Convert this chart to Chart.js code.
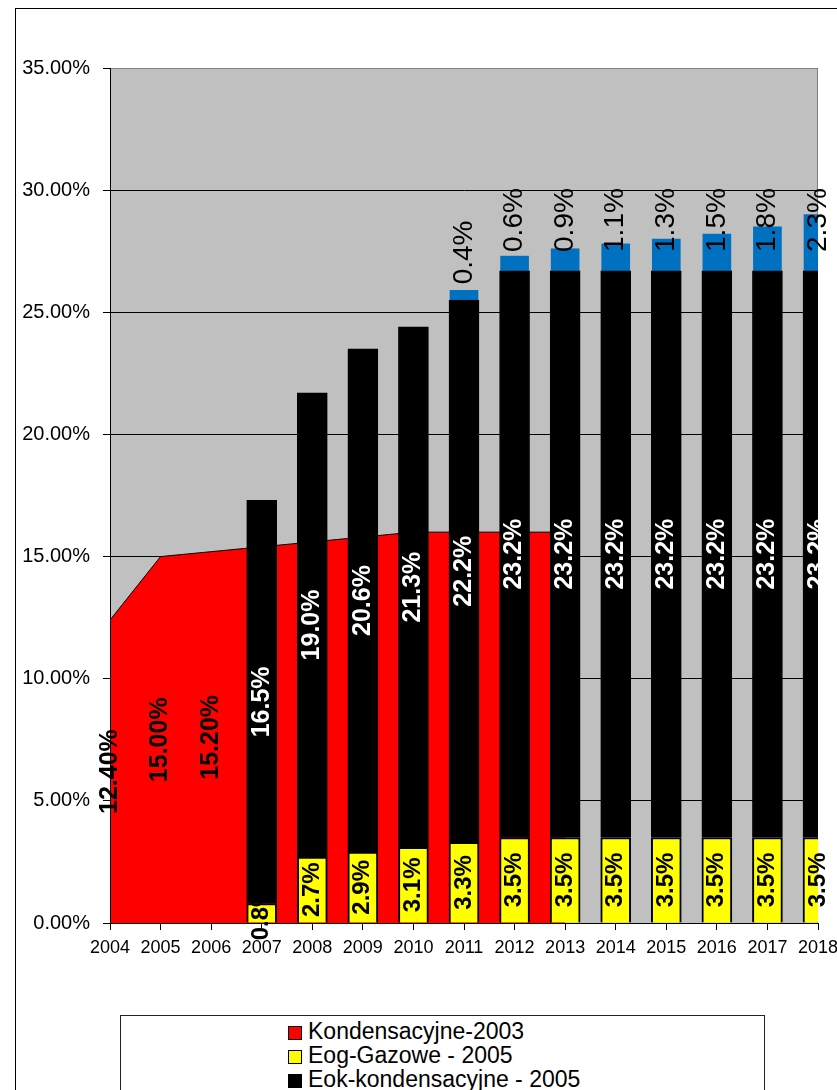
<!DOCTYPE html>
<html>
<head>
<meta charset="utf-8">
<script src="https://cdn.jsdelivr.net/npm/chart.js@4.4.1/dist/chart.umd.min.js"></script>
<style>
html, body { margin: 0; padding: 0; background: #fff; overflow: hidden; }
body { width: 837px; height: 1090px; position: relative; font-family: 'Liberation Sans', Arial, sans-serif; }
#frame { position: absolute; left: 15px; top: 8px; width: 900px; height: 1200px; border: 1px solid #000; }
#chart { position: absolute; left: 0; top: 0; }
#legend { position: absolute; left: 120px; top: 1015px; width: 643px; height: 200px; border: 1px solid #222; background: #fff; }
#legend .items { padding: 3px 0 0 167px; }
#legend .item { font-size: 23px; line-height: 24px; height: 24px; white-space: nowrap; color: #000; }
#legend .box { display: inline-block; width: 12px; height: 12px; border: 1px solid #000; margin-right: 6px; vertical-align: -1px; }
</style>
</head>
<body>
<div id="frame"></div>
<canvas id="chart" width="837" height="1090"></canvas>
<div id="legend"><div class="items"></div></div>
<script>
const years = ['2004', '2005', '2006', '2007', '2008', '2009', '2010', '2011', '2012', '2013', '2014', '2015', '2016', '2017', '2018'];
const kondensacyjne2003 = [12.4, 15.0, 15.2, 15.4, 15.6, 15.8, 16.0, 16.0, 16.0, 16.0, null, null, null, null, null];
const eogGazowe2005 = [null, null, null, 0.8, 2.7, 2.9, 3.1, 3.3, 3.5, 3.5, 3.5, 3.5, 3.5, 3.5, 3.5];
const eokKondensacyjne2005 = [null, null, null, 16.5, 19.0, 20.6, 21.3, 22.2, 23.2, 23.2, 23.2, 23.2, 23.2, 23.2, 23.2];
const topSeries = [null, null, null, null, null, null, null, 0.4, 0.6, 0.9, 1.1, 1.3, 1.5, 1.8, 2.3];
const seriesNames = ['Kondensacyjne-2003', 'Eog-Gazowe - 2005', 'Eok-kondensacyjne - 2005', ''];
const yTickStep = 5, yMax = 35;

Chart.defaults.font.family = "'Liberation Sans', Arial, sans-serif";
Chart.defaults.color = '#000';

// label look per dataset index
const labelStyles = [
    { font: "bold 25px 'Liberation Sans', Arial", color: '#000', digits: 2 },
    { font: "bold 24px 'Liberation Sans', Arial", color: '#000', digits: 1 },
    { font: "bold 25px 'Liberation Sans', Arial", color: '#fff', digits: 1 },
    { font: "28px 'Liberation Sans', Arial", color: '#000', digits: 1, above: true }
];

const segmentLabels = {
    id: 'segmentLabels',
    afterDatasetDraw(chart, args) {
        const st = labelStyles[args.index];
        const ds = chart.data.datasets[args.index];
        const ctx = chart.ctx, y = chart.scales.y;
        args.meta.data.forEach((el, i) => {
            const v = ds.data[i];
            if (v == null) return;
            const text = v.toFixed(st.digits) + '%';
            ctx.save();
            ctx.font = st.font;
            ctx.fillStyle = st.color;
            ctx.textBaseline = 'middle';
            let py;
            if (st.above) {
                const w = ctx.measureText(text).width;
                py = Math.max(el.y - 6, y.getPixelForValue(30) - 2 + w);
                ctx.textAlign = 'left';
            } else {
                const base = args.meta.type === 'line' ? y.getPixelForValue(0) : el.base;
                py = (el.y + base) / 2;
                ctx.textAlign = 'center';
            }
            ctx.translate(el.x, py);
            ctx.rotate(-Math.PI / 2);
            ctx.fillText(text, 0, 0);
            ctx.restore();
        });
    }
};

const plotFrame = {
    id: 'plotFrame',
    beforeDraw(chart) {
        const a = chart.chartArea, ctx = chart.ctx;
        ctx.save();
        ctx.fillStyle = '#C0C0C0';
        ctx.fillRect(a.left, a.top, a.right - a.left, a.bottom - a.top);
        ctx.restore();
    },
    beforeDatasetsDraw(chart) {
        const a = chart.chartArea, ctx = chart.ctx;
        ctx.save();
        ctx.strokeStyle = '#808080';
        ctx.lineWidth = 1;
        ctx.beginPath();
        ctx.moveTo(a.right - 0.5, a.top);
        ctx.lineTo(a.right - 0.5, a.bottom);
        ctx.stroke();
        ctx.restore();
    },
    afterDatasetsDraw(chart) {
        const a = chart.chartArea, ctx = chart.ctx;
        ctx.save();
        ctx.strokeStyle = '#000';
        ctx.lineWidth = 1;
        ctx.beginPath();
        ctx.moveTo(a.left + 0.5, a.top);
        ctx.lineTo(a.left + 0.5, a.bottom);
        ctx.stroke();
        ctx.restore();
    }
};

const chart = new Chart(document.getElementById('chart'), {
    type: 'bar',
    data: {
        labels: years,
        datasets: [
            { type: 'line', label: seriesNames[0], data: kondensacyjne2003, stack: 'area', order: 1, fill: 'origin',
              backgroundColor: '#FF0000', borderColor: '#000', borderWidth: 1, pointRadius: 0, tension: 0 },
            { label: seriesNames[1], data: eogGazowe2005, stack: 'bars', backgroundColor: '#FFFF00',
              borderColor: '#000', borderWidth: 2, barThickness: 30, clip: 0 },
            { label: seriesNames[2], data: eokKondensacyjne2005, stack: 'bars', backgroundColor: '#000',
              borderColor: '#000', borderWidth: 1, barThickness: 30, clip: 0 },
            { label: seriesNames[3], data: topSeries, stack: 'bars', backgroundColor: '#0070C0',
              borderWidth: 0, barThickness: 28, clip: 0 }
        ]
    },
    options: {
        responsive: false,
        animation: false,
        layout: { padding: { left: 0, top: 68, right: 19, bottom: 107 } },
        plugins: { legend: { display: false }, tooltip: { enabled: false } },
        scales: {
            x: {
                stacked: true, offset: false, z: 1,
                grid: { offset: false, drawOnChartArea: false, drawTicks: true, tickLength: 7, color: '#000' },
                border: { color: '#000', width: 1 },
                ticks: { font: { size: 18 }, color: '#000', maxRotation: 0, autoSkip: false, padding: 7 },
                afterFit(s) { s.height = 60; s.paddingLeft = 0; s.paddingRight = 0; }
            },
            y: {
                stacked: true, min: 0, max: yMax,
                ticks: { stepSize: yTickStep, font: { size: 20 }, color: '#000', padding: 13,
                         callback: v => v.toFixed(2) + '%' },
                grid: { color: c => c.tick && c.tick.value === yMax ? '#808080' : '#000', tickColor: '#000', tickLength: 7, lineWidth: 1 },
                border: { color: '#000' },
                afterFit(s) { s.width = 110; s.paddingTop = 0; s.paddingBottom = 0; }
            }
        }
    },
    plugins: [plotFrame, segmentLabels]
});

// legend box
const items = document.querySelector('#legend .items');
chart.data.datasets.forEach(ds => {
    if (!ds.label) return;
    const row = document.createElement('div');
    row.className = 'item';
    row.innerHTML = '<span class="box" style="background:' + ds.backgroundColor + '"></span>' + ds.label;
    items.appendChild(row);
});
</script>
</body>
</html>
